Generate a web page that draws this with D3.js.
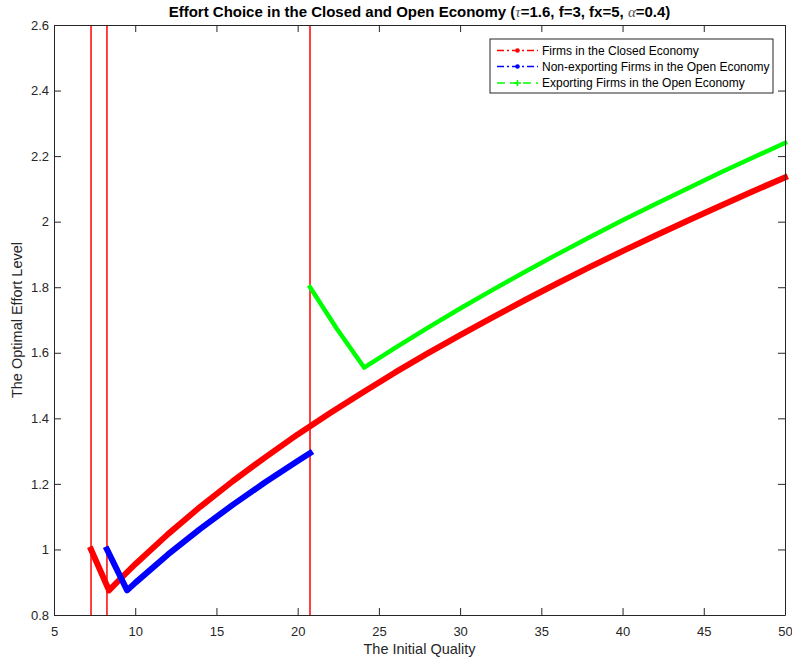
<!DOCTYPE html>
<html><head><meta charset="utf-8">
<script src="https://cdn.jsdelivr.net/npm/d3@7"></script>
<style>body{margin:0;background:#fff}svg{display:block}text{font-family:Arial,"Liberation Sans",sans-serif}</style>
</head><body><svg id="c" width="792" height="661"></svg>
<script>
const xTicks=[5,10,15,20,25,30,35,40,45,50];
const yTicks=[0.8,1,1.2,1.4,1.6,1.8,2,2.2,2.4,2.6];
const cutoffs=[7.28,8.26,20.76];
const closedX=[7.28,8.39,9,10,12,14,16,18,20,22,24,26,28,30,32,34,36,38,40,42,44,46,48,50];
const closedY=[1.0,0.875,0.906,0.955,1.046,1.130,1.208,1.281,1.351,1.416,1.479,1.540,1.598,1.654,1.708,1.761,1.812,1.862,1.910,1.957,2.003,2.048,2.092,2.135];
const nonExpX=[8.26,9.5,10,12,14,16,18,20,20.76];
const nonExpY=[1.0,0.875,0.898,0.984,1.063,1.136,1.205,1.270,1.294];
const expX=[20.76,22.4,24.09,26,28,30,32,34,36,38,40,42,44,46,48,50];
const expY=[1.80,1.674,1.555,1.615,1.676,1.735,1.792,1.847,1.901,1.953,2.004,2.053,2.101,2.149,2.195,2.240];
const legendLabels=["Firms in the Closed Economy","Non-exporting Firms in the Open Economy","Exporting Firms in the Open Economy"];
const colors=["#ff0000","#0000ff","#00ff00"];

const svg=d3.select("#c");
const L=54,R=785,T=25,B=615;
const x=d3.scaleLinear().domain([5,50]).range([L,R]);
const y=d3.scaleLinear().domain([0.8,2.6]).range([B,T]);
const ax="#262626";

svg.selectAll(".cut").data(cutoffs).join("line")
 .attr("x1",d=>x(d)).attr("x2",d=>x(d)).attr("y1",T).attr("y2",B)
 .attr("stroke","#ff0000").attr("stroke-width",1.5);

const line=d3.line().x(d=>x(d[0])).y(d=>y(d[1]));
function series(xs,ys,color,w){
 svg.append("path").datum(xs.map((v,i)=>[v,ys[i]])).attr("d",line)
  .attr("fill","none").attr("stroke",color).attr("stroke-width",w)
  .attr("stroke-linejoin","round").attr("stroke-linecap","square");
}
series(closedX,closedY,colors[0],6);
series(nonExpX,nonExpY,colors[1],6);
series(expX,expY,colors[2],4.5);

const gB=svg.append("g").attr("transform",`translate(0,${B})`).call(d3.axisBottom(x).tickValues(xTicks).tickSizeInner(-7).tickSizeOuter(0).tickPadding(9));
const gT=svg.append("g").attr("transform",`translate(0,${T})`).call(d3.axisTop(x).tickValues(xTicks).tickSizeInner(-7).tickSizeOuter(0).tickFormat(""));
const gL=svg.append("g").attr("transform",`translate(${L},0)`).call(d3.axisLeft(y).tickValues(yTicks).tickSizeInner(-7).tickSizeOuter(0).tickPadding(5).tickFormat(d3.format("~g")));
const gR=svg.append("g").attr("transform",`translate(${R},0)`).call(d3.axisRight(y).tickValues(yTicks).tickSizeInner(-7).tickSizeOuter(0).tickFormat(""));
[gB,gT,gL,gR].forEach(g=>{
 g.select(".domain").attr("stroke",ax).attr("stroke-width",1);
 g.selectAll(".tick line").attr("stroke",ax);
 g.selectAll("text").attr("fill",ax).style("font-size","13px").style("font-family","Arial");
});
gB.selectAll(".tick text").attr("dy","0.9em");

const t=svg.append("text").attr("x",(L+R)/2).attr("y",17).attr("text-anchor","middle")
 .style("font-size","15px").style("font-weight","bold").attr("fill","#000");
t.append("tspan").text("Effort Choice in the Closed and Open Economy (");
t.append("tspan").text("τ").style("font-style","italic").style("font-weight","normal").attr("fill","#555").style("font-family","Liberation Serif, serif");
t.append("tspan").text("=1.6, f=3, fx=5, ");
t.append("tspan").text("α").style("font-style","italic").style("font-weight","normal").attr("fill","#555").style("font-family","Liberation Serif, serif");
t.append("tspan").text("=0.4)");

svg.append("text").attr("x",(L+R)/2).attr("y",654).attr("text-anchor","middle")
 .style("font-size","14.5px").attr("fill",ax).text("The Initial Quality");
svg.append("text").attr("transform",`translate(22,${(T+B)/2}) rotate(-90)`).attr("text-anchor","middle")
 .style("font-size","14.5px").attr("fill",ax).text("The Optimal Effort Level");

const lg=svg.append("g");
lg.append("rect").attr("x",490).attr("y",39).attr("width",283).attr("height",54)
 .attr("fill","#fff").attr("stroke",ax).attr("stroke-width",1);
const rowY=[50.5,66.5,83];
legendLabels.forEach((lab,i)=>{
 lg.append("line").attr("x1",497).attr("x2",538).attr("y1",rowY[i]).attr("y2",rowY[i])
  .attr("stroke",colors[i]).attr("stroke-width",1.5)
  .attr("stroke-dasharray",i<2?"7,3,2,3":"8,5");
 if(i<2){
  lg.append("circle").attr("cx",517.5).attr("cy",rowY[i]).attr("r",2.3).attr("fill",colors[i]);
 } else {
  lg.append("path").attr("d",`M514,${rowY[i]}h7M517.5,${rowY[i]-3}v6`).attr("stroke",colors[i]).attr("stroke-width",1.5);
 }
 lg.append("text").attr("x",542).attr("y",rowY[i]+4).style("font-size","12px").attr("fill","#000").text(lab);
});
</script></body></html>
